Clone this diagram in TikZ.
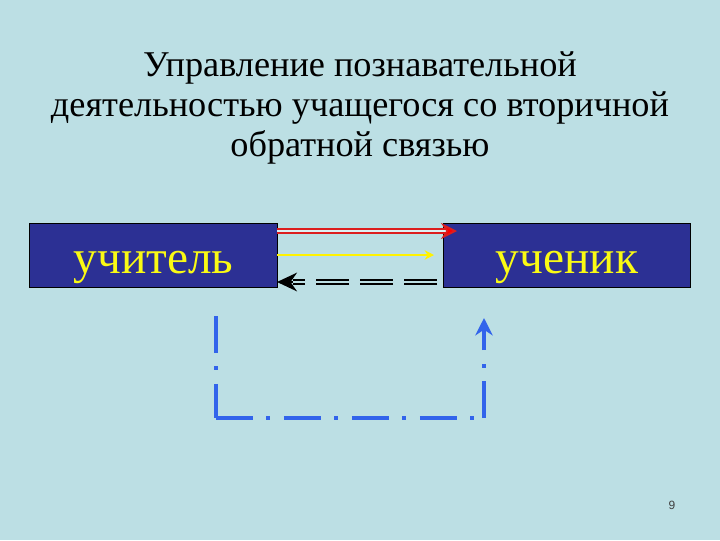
\documentclass[tikz,border=0pt]{standalone}
\usepackage{fontspec}
\setmainfont{Liberation Serif}
\newfontfamily\numfont{Liberation Sans}
\usetikzlibrary{arrows.meta}
\definecolor{bgc}{RGB}{188,223,228}
\definecolor{boxc}{RGB}{44,48,148}
\definecolor{txty}{RGB}{250,250,20}
\definecolor{bluel}{RGB}{50,100,235}
\definecolor{redl}{RGB}{220,30,30}
\begin{document}
\begin{tikzpicture}[x=0.75pt,y=-0.75pt,
  boxnode/.style={draw=black,line width=0.6pt,fill=boxc,minimum width=185.6pt,minimum height=48pt,inner sep=0pt,text height=33pt,text depth=6pt,font=\fontsize{35.5}{38}\selectfont,text=txty},
  titlenode/.style={anchor=base,font=\fontsize{27.2}{30}\selectfont,text=black},
  bluedash/.style={bluel,line width=3pt,dash pattern=on 27.75pt off 10.1pt on 3pt off 10.1pt}]
\useasboundingbox[fill=bgc] (0,0) rectangle (720,540);
\node[titlenode] (title1) at (360,76) {Управление познавательной};
\node[titlenode] (title2) at (360,116) {деятельностью учащегося со вторичной};
\node[titlenode] (title3) at (360,156) {обратной связью};
\node[boxnode] (teacher) at (153.5,255) {учитель};
\node[boxnode] (pupil) at (567,255) {ученик};
% red double arrow
\coordinate (r1) at (277,231);
\coordinate (r2) at (457,231);
\draw[redl,double=bgc!50!white,double distance=1.6pt,line width=1.3pt,-{Stealth[length=12pt,width=12pt,fill=red]}] (r1) -- (r2);
% yellow arrow
\coordinate (y1) at (277,255);
\coordinate (y2) at (434,255);
\draw[yellow,line width=2pt,-{Stealth[length=7pt,width=7pt]}] (y1) -- (y2);
% black dashed double arrow
\coordinate (b1) at (437,282);
\coordinate (b2) at (277,282);
\coordinate (b3) at (293,282);
\draw[black,double=bgc,double distance=1.3pt,line width=1.6pt,dash pattern=on 24.75pt off 8.25pt] (b1) -- (b3);
\draw[black,line width=1.6pt,{Stealth[length=15pt,width=14pt]}-] (b2) -- (b3);
% blue dash-dot loop
\coordinate (l1) at (216,316);
\coordinate (l2) at (216,418);
\coordinate (l3) at (484,418);
\coordinate (l4) at (484,318);
\draw[bluedash] (l1) -- (l2);
\draw[bluedash] (l2) -- (l3);
\draw[bluedash,-{Stealth[length=13pt,width=13pt]}] (l3) -- (l4);
\node[font=\numfont\fontsize{9}{10}\selectfont,text=black!75] (pg) at (672,505) {9};
\end{tikzpicture}
\end{document}
